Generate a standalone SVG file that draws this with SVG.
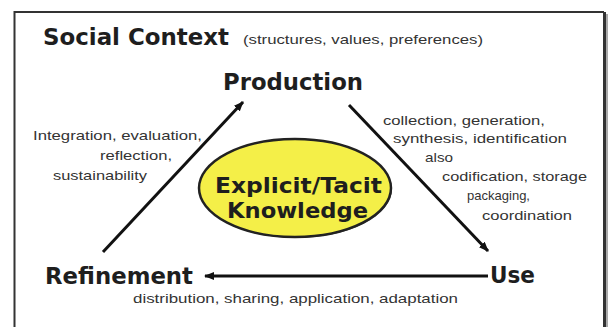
<svg xmlns="http://www.w3.org/2000/svg" width="611" height="327" viewBox="0 0 611 327">
<defs>
<marker id="ah" markerWidth="10" markerHeight="8" refX="9" refY="4" orient="auto" markerUnits="userSpaceOnUse">
<path d="M0,0 L10,4 L0,8 Z" fill="#111"/>
</marker>
<style>
.b{font-family:"DejaVu Sans","Liberation Sans",sans-serif;font-weight:bold;fill:#1e1e1e}
.s{font-family:"Liberation Sans","DejaVu Sans",sans-serif;font-size:13.5px;fill:#333}
.c{stroke:#111;stroke-width:3;fill:none;marker-end:url(#ah)}
</style>
</defs>
<rect width="611" height="327" fill="#fff"/>
<g id="frame">
<path d="M14.5,330 V12 H604" fill="none" stroke="#333" stroke-width="2"/>
<path d="M604.5,12 V330" fill="none" stroke="#333" stroke-width="3"/>
<path d="M607,14 V330" fill="none" stroke="#aaa" stroke-width="2"/>
</g>
<g id="title">
<text class="b" x="43" y="45" font-size="23" textLength="186" lengthAdjust="spacingAndGlyphs">Social Context</text>
<text class="s" x="243" y="44" textLength="240" lengthAdjust="spacingAndGlyphs">(structures, values, preferences)</text>
</g>
<g id="connectors">
<line class="c" x1="103" y1="252" x2="243" y2="102"/>
<line class="c" x1="349" y1="105" x2="488" y2="251"/>
<line class="c" x1="488" y1="276" x2="205" y2="276"/>
</g>
<g id="production">
<text class="b" x="223" y="90" font-size="23" textLength="140" lengthAdjust="spacingAndGlyphs">Production</text>
</g>
<g id="use">
<text class="b" x="490" y="283" font-size="23" textLength="45" lengthAdjust="spacingAndGlyphs">Use</text>
</g>
<g id="refinement">
<text class="b" x="45" y="284" font-size="23" textLength="148" lengthAdjust="spacingAndGlyphs">Refinement</text>
</g>
<g id="knowledge">
<ellipse cx="296" cy="189" rx="96" ry="49" fill="#444"/>
<ellipse cx="295" cy="188" rx="96" ry="49" fill="#f4ef48" stroke="#222" stroke-width="2.5"/>
<text class="b" x="215" y="193" font-size="22" textLength="167" lengthAdjust="spacingAndGlyphs">Explicit/Tacit</text>
<text class="b" x="227" y="218" font-size="22" textLength="141" lengthAdjust="spacingAndGlyphs">Knowledge</text>
</g>
<g id="labels">
<text class="s" x="33" y="140" textLength="169" lengthAdjust="spacingAndGlyphs">Integration, evaluation,</text>
<text class="s" x="100" y="160" textLength="72" lengthAdjust="spacingAndGlyphs">reflection,</text>
<text class="s" x="53" y="180" textLength="94" lengthAdjust="spacingAndGlyphs">sustainability</text>
<text class="s" x="383" y="125" textLength="162" lengthAdjust="spacingAndGlyphs">collection, generation,</text>
<text class="s" x="393" y="143" textLength="174" lengthAdjust="spacingAndGlyphs">synthesis, identification</text>
<text class="s" x="425" y="162" textLength="28" lengthAdjust="spacingAndGlyphs">also</text>
<text class="s" x="442" y="181" textLength="145" lengthAdjust="spacingAndGlyphs">codification, storage</text>
<text class="s" x="467" y="200" textLength="63" lengthAdjust="spacingAndGlyphs">packaging,</text>
<text class="s" x="482" y="220" textLength="90" lengthAdjust="spacingAndGlyphs">coordination</text>
<text class="s" x="133" y="303" textLength="325" lengthAdjust="spacingAndGlyphs">distribution, sharing, application, adaptation</text>
</g>
</svg>
